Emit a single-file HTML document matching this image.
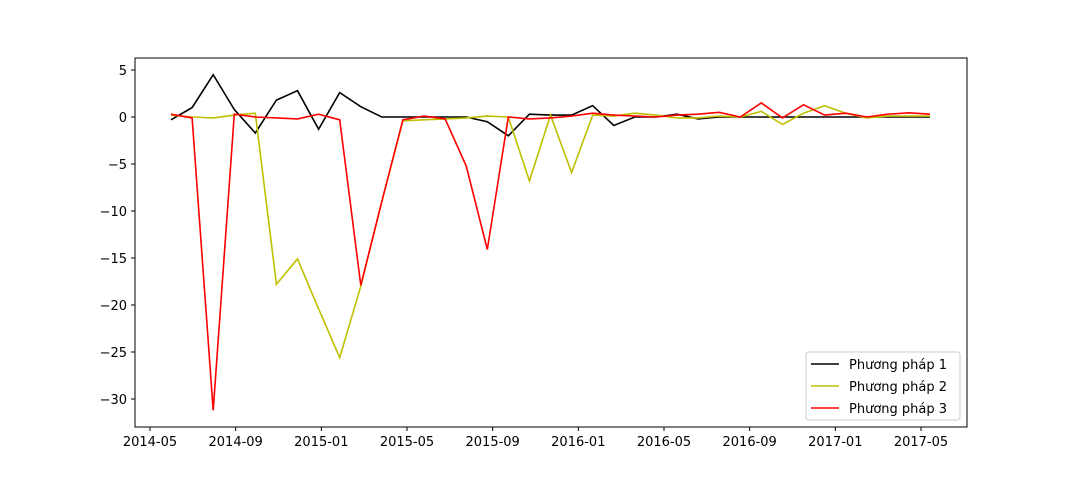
<!DOCTYPE html>
<html><head><meta charset="utf-8"><style>
body{margin:0;background:#fff;}
svg text{font-family:"DejaVu Sans","Liberation Sans",sans-serif;font-size:13px;fill:#000;}
</style></head><body>
<svg id="chart" width="1074" height="480" xmlns="http://www.w3.org/2000/svg">
<rect x="0" y="0" width="1074" height="480" fill="#fff"/>
<g id="marks"></g>
<rect x="135" y="58" width="832" height="369" fill="none" stroke="#000" stroke-width="1"/>
<g id="axes"></g>
<g>
<rect x="806" y="352" width="154" height="68" rx="3" fill="#fff" fill-opacity="0.8" stroke="#ccc"/>
<g><line x1="811" y1="364" x2="839" y2="364" stroke="#000" stroke-width="1.5"/><text x="849" y="369">Phương pháp 1</text></g>
<g><line x1="811" y1="386" x2="839" y2="386" stroke="#bfbf00" stroke-width="1.5"/><text x="849" y="391">Phương pháp 2</text></g>
<g><line x1="811" y1="408" x2="839" y2="408" stroke="#ff0000" stroke-width="1.5"/><text x="849" y="413">Phương pháp 3</text></g>
</g>
</svg>
<script>
const series1 = [-0.3,1.0,4.5,0.8,-1.7,1.8,2.8,-1.3,2.6,1.1,0.0,0.0,0.0,0.0,0.0,-0.5,-2.0,0.3,0.2,0.2,1.2,-0.9,0.0,0.0,0.3,-0.2,0.0,0.0,0.0,0.0,0.0,0.0,0.0,0.0,0.0,0.0,0.0];
const series2 = [0.2,0.0,-0.1,0.2,0.4,-17.8,-15.1,-20.4,-25.6,-18.0,-9.0,-0.4,-0.3,-0.2,-0.1,0.1,0.0,-6.8,0.2,-5.9,0.2,0.1,0.4,0.2,-0.1,-0.1,0.1,0.0,0.6,-0.8,0.4,1.2,0.4,-0.1,0.1,0.1,0.1];
const series3 = [0.3,-0.1,-31.2,0.3,0.0,-0.1,-0.2,0.3,-0.3,-17.9,-9.0,-0.3,0.1,-0.2,-5.2,-14.1,0.0,-0.2,-0.1,0.1,0.4,0.2,0.1,0.0,0.2,0.3,0.5,0.0,1.5,-0.1,1.3,0.2,0.4,0.0,0.3,0.45,0.3];
const yTicks = [5,0,-5,-10,-15,-20,-25,-30];
const yTickLabels = ["5","0","\u22125","\u221210","\u221215","\u221220","\u221225","\u221230"];
const xTickLabels = ["2014-05","2014-09","2015-01","2015-05","2015-09","2016-01","2016-05","2016-09","2017-01","2017-05"];
const xTickMonths = [0,4,8,12,16,20,24,28,32,36]; // months since 2014-05
const NS="http://www.w3.org/2000/svg";
function yScale(v){return 117 - v*9.4;}
function xIdx(i){return 171 + i*(930-171)/36;}
function xMonth(m){return 150 + m*(921-150)/36;}
const marks=document.getElementById('marks'), axes=document.getElementById('axes');
const cols=["#000000","#bfbf00","#ff0000"];
[series1,series2,series3].forEach((s,k)=>{
  const p=document.createElementNS(NS,'polyline');
  p.setAttribute('points',s.map((v,i)=>xIdx(i).toFixed(1)+','+yScale(v).toFixed(1)).join(' '));
  p.setAttribute('fill','none');p.setAttribute('stroke',cols[k]);p.setAttribute('stroke-width','1.6');
  
  
  marks.appendChild(p);
});
yTicks.forEach((v,i)=>{
  const y=yScale(v);
  const l=document.createElementNS(NS,'line');
  l.setAttribute('x1',131);l.setAttribute('x2',135);l.setAttribute('y1',y);l.setAttribute('y2',y);l.setAttribute('stroke','#000');
  
  
  axes.appendChild(l);
  const t=document.createElementNS(NS,'text');
  t.setAttribute('x',127);t.setAttribute('y',y+5);t.setAttribute('text-anchor','end');t.textContent=yTickLabels[i];
  
  
  axes.appendChild(t);
});
xTickMonths.forEach((m,i)=>{
  const x=xMonth(m);
  const l=document.createElementNS(NS,'line');
  l.setAttribute('x1',x);l.setAttribute('x2',x);l.setAttribute('y1',427);l.setAttribute('y2',431);l.setAttribute('stroke','#000');
  
  
  axes.appendChild(l);
  const t=document.createElementNS(NS,'text');
  t.setAttribute('x',x);t.setAttribute('y',446);t.setAttribute('text-anchor','middle');t.textContent=xTickLabels[i];
  
  
  axes.appendChild(t);
});
</script>
</body></html>
